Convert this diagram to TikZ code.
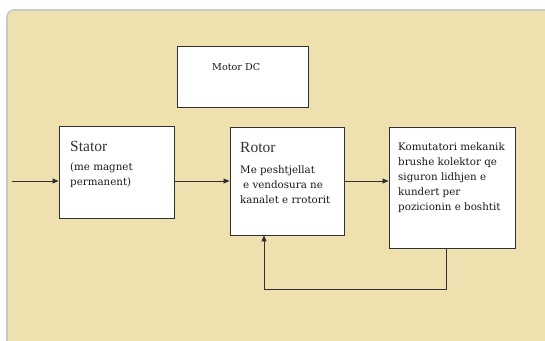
\documentclass[tikz,border=0pt]{standalone}
\usepackage{fontspec}
\setmainfont{Liberation Serif}
\newfontfamily\slab{DejaVu Serif}
\usetikzlibrary{arrows.meta}
\definecolor{panelfill}{HTML}{EEE1AF}
\definecolor{paneledge}{HTML}{C9C9C4}
\definecolor{boxedge}{HTML}{303030}
\tikzset{
  blockbox/.style={draw=boxedge, fill=white, line width=0.9pt, inner sep=0pt},
  title/.style={anchor=base west, inner sep=0pt, font=\fontsize{15.5}{18}\selectfont, text=black!80},
  body/.style={anchor=base west, inner sep=0pt, align=left, text=black!90,
    font=\slab\fontsize{10.3}{15}\selectfont},
  conn/.style={draw=boxedge, line width=0.8pt, -{Triangle[length=6pt,width=5pt]}}
}
\begin{document}
\begin{tikzpicture}[x=1pt,y=-1pt]
  \useasboundingbox (0,0) rectangle (545,340);
  \fill[white] (0,0) rectangle (545,340);
  % background panel
  \draw[fill=panelfill, draw=paneledge, line width=1.6pt, rounded corners=7pt] (7,10) rectangle (565,360);

  % blocks
  \node[blockbox, minimum width=131pt, minimum height=61pt] (motor) at (242.5,76.5) {};
  \node[blockbox, minimum width=115pt, minimum height=92pt] (stator) at (116.5,172) {};
  \node[blockbox, minimum width=114pt, minimum height=108pt] (rotor) at (287,181) {};
  \node[blockbox, minimum width=126pt, minimum height=121pt] (kom) at (452,187.5) {};

  % texts (multi-line bodies are placed by the baseline of their last line)
  \node[body, font=\slab\fontsize{9.6}{11}\selectfont] (motortxt) at (212,70) {Motor DC};
  \node[title] (statortitle) at (70,151) {Stator};
  \node[body] (statortxt) at (70,185) {(me magnet\\permanent)};
  \node[title] (rotortitle) at (240,152) {Rotor};
  \node[body] (rotortxt) at (240,203) {Me peshtjellat\\\hspace{3pt}e vendosura ne\\kanalet e rrotorit};
  \node[body] (komtxt) at (398,210) {Komutatori mekanik\\brushe kolektor qe\\siguron lidhjen e\\kundert per\\pozicionin e boshtit};

  % connectors
  \coordinate (in) at (12,181);
  \draw[conn] (in) -- (stator.west |- in);
  \draw[conn] (stator.east |- in) -- (rotor.west |- in);
  \draw[conn] (rotor.east |- in) -- (kom.west |- in);
  \coordinate (fbR) at (446,289);
  \coordinate (fbL) at (264,289);
  \draw[conn] (kom.south -| fbR) -- (fbR) -- (fbL) -- (rotor.south -| fbL);
\end{tikzpicture}
\end{document}
